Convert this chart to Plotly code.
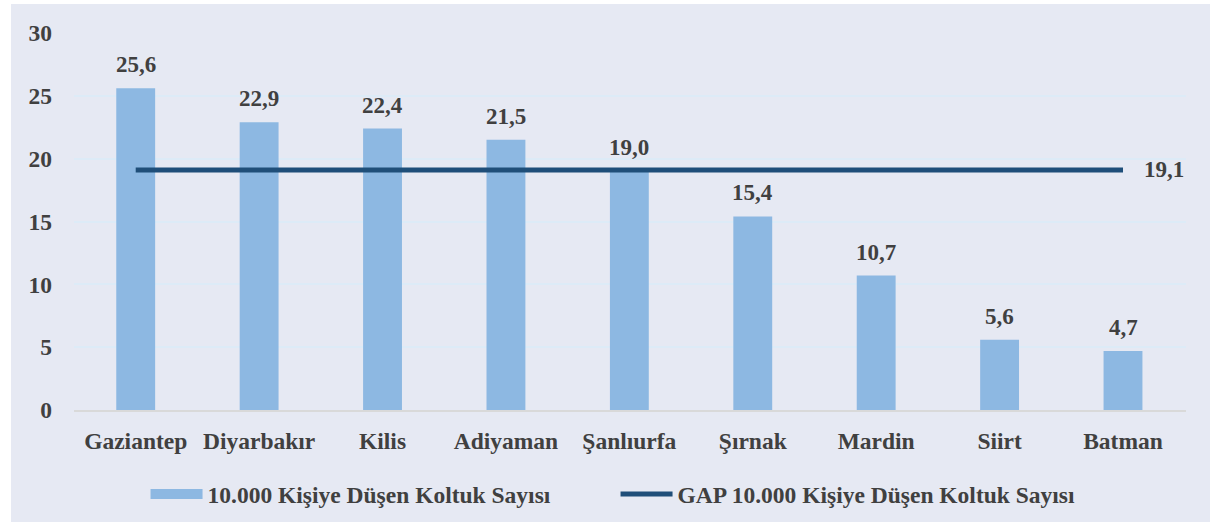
import plotly.graph_objects as go

categories = ["Gaziantep", "Diyarbakır", "Kilis", "Adiyaman", "Şanlıurfa", "Şırnak", "Mardin", "Siirt", "Batman"]
koltuk = [25.6, 22.9, 22.4, 21.5, 19.0, 15.4, 10.7, 5.6, 4.7]
gap_value = 19.1
gap_line = [gap_value] * len(categories)

bar_name = "10.000 Kişiye Düşen Koltuk Sayısı"
line_name = "GAP 10.000 Kişiye Düşen Koltuk Sayısı"

TXT = "#404040"
BAR = "#8DB8E2"
FONT = "Liberation Serif"


def b(s):
    return f"<b>{s}</b>"


fig = go.Figure()
fig.add_trace(go.Bar(
    x=categories, y=koltuk, name=b(bar_name), showlegend=False,
    marker=dict(color=BAR, line=dict(width=0)),
))
# legend entry for the bars (wide rectangle swatch)
fig.add_trace(go.Scatter(
    x=[None], y=[None], name=b(bar_name), mode="lines",
    line=dict(color=BAR, width=12),
))
fig.add_trace(go.Scatter(
    x=categories, y=gap_line, name=b(line_name), mode="lines",
    line=dict(color="#1F4E79", width=5),
))

for c, v in zip(categories, koltuk):
    fig.add_annotation(x=c, y=v, text=b(f"{v:.1f}".replace(".", ",")), showarrow=False,
                       yanchor="bottom", yshift=9,
                       font=dict(family=FONT, size=23, color=TXT))
fig.add_annotation(x=categories[-1], y=gap_line[-1], text=b(f"{gap_value:.1f}".replace(".", ",")),
                   showarrow=False, xanchor="left", xshift=19,
                   font=dict(family=FONT, size=23, color=TXT))

fig.add_shape(type="rect", xref="paper", yref="paper",
              x0=-63 / 1112, x1=1.1, y0=-0.5, y1=406 / 377,
              fillcolor="#E6E9F3", line=dict(width=0), layer="below")

fig.update_layout(
    width=1210, height=522,
    margin=dict(l=74, r=24, t=33, b=112, autoexpand=False),
    paper_bgcolor="white", plot_bgcolor="rgba(0,0,0,0)",
    bargap=0.685,
    separators=",.",
    font=dict(family=FONT, color=TXT, size=23),
    showlegend=True,
    legend=dict(orientation="h", x=0.487, xanchor="center", y=-0.165, yanchor="top",
                font=dict(family=FONT, size=23.5, color=TXT),
                itemwidth=52, entrywidth=403, bgcolor="rgba(0,0,0,0)"),
    xaxis=dict(showgrid=False, showline=True, linecolor="#D9D9D9", linewidth=2,
               ticks="", ticklabelstandoff=9, automargin=False,
               tickvals=categories, ticktext=[b(c) for c in categories],
               tickfont=dict(family=FONT, size=23.5, color=TXT)),
    yaxis=dict(range=[0, 30], dtick=5, showgrid=True, gridcolor="#DDEBF7", gridwidth=2,
               zeroline=False, showline=False, ticks="", ticklabelstandoff=21, automargin=False,
               tickprefix="<b>", ticksuffix="</b>",
               tickfont=dict(family=FONT, size=23.5, color=TXT)),
)

fig.write_html("out.html", config={"displayModeBar": False},
               post_script="document.body.style.margin='0';")
